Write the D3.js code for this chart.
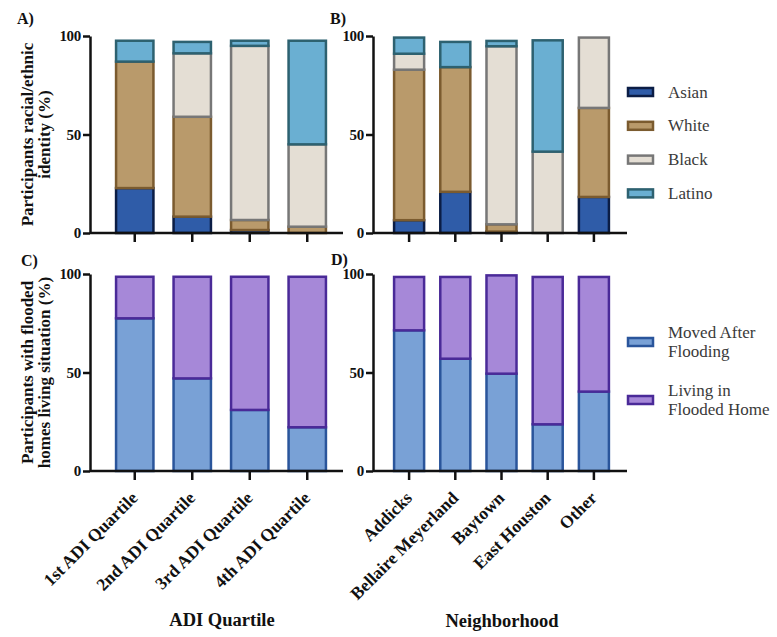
<!DOCTYPE html>
<html>
<head>
<meta charset="utf-8">
<script src="https://cdn.jsdelivr.net/npm/d3@7"></script>
<style>
  body { margin: 0; background: #fff; }
  svg { display: block; }
</style>
</head>
<body>
<svg id="chart" width="777" height="637"></svg>
<script>
// categories
var adiCats = ["1st ADI Quartile", "2nd ADI Quartile", "3rd ADI Quartile", "4th ADI Quartile"];
var hoodCats = ["Addicks", "Bellaire Meyerland", "Baytown", "East Houston", "Other"];
var raceKeys = ["Asian", "White", "Black", "Latino"];
var floodKeys = ["Moved After Flooding", "Living in Flooded Home"];
var yTicks = [0, 50, 100];

// A) race by ADI quartile (%)
var adiAsian  = [22.8, 8.3, 1.5, 0];
var adiWhite  = [64.2, 50.7, 5.1, 3.2];
var adiBlack  = [0, 32.2, 88.4, 41.8];
var adiLatino = [10.6, 5.8, 2.6, 52.6];
// B) race by neighborhood (%)
var hoodAsian  = [6.5, 20.9, 0.7, 0, 18.3];
var hoodWhite  = [76.4, 63.3, 3.7, 0, 45.2];
var hoodBlack  = [8.1, 0, 90.4, 41.3, 35.7];
var hoodLatino = [8.2, 12.8, 2.7, 56.5, 0];
// C) flooded homes by ADI quartile (%)
var adiMoved  = [77.5, 47.0, 31.0, 22.2];
var adiLiving = [21.1, 51.6, 67.6, 76.4];
// D) flooded homes by neighborhood (%)
var hoodMoved  = [71.4, 57.0, 49.4, 23.7, 40.3];
var hoodLiving = [27.1, 41.5, 49.9, 74.8, 58.2];

var raceFill   = ["#2f5ca8", "#b99a6b", "#e4ded4", "#6aafd2"];
var raceStroke = ["#0b1d45", "#7b5b2f", "#777777", "#2d6170"];
var floodFill   = ["#79a1d6", "#a688d8"];
var floodStroke = ["#2a559b", "#4a2a98"];

var SERIF = "'Liberation Serif', 'Times New Roman', Times, serif";

var svg = d3.select("#chart");
svg.append("rect").attr("width", 777).attr("height", 637).attr("fill", "#fff");

function rows(cats, keys, series) {
	return cats.map(function(c, i) {
		var o = { cat: c };
		keys.forEach(function(k, j) { o[k] = series[j][i]; });
		return o;
	});
}

function label(sel, size, bold) {
	return sel.attr("font-family", SERIF).attr("font-size", size)
		.attr("font-weight", bold ? "bold" : "normal");
}

// one stacked-bar panel
function panel(cfg) {
	var g = svg.append("g");
	var x = d3.scaleBand().domain(cfg.cats).range(cfg.band).paddingInner(0.35).paddingOuter(0.175);
	var y = d3.scaleLinear().domain([0, 100]).range(cfg.yr);

	var stack = d3.stack().keys(cfg.keys)(rows(cfg.cats, cfg.keys, cfg.series));
	var layers = g.selectAll("g.layer").data(stack).enter().append("g")
		.attr("class", "layer")
		.attr("fill", function(d, i) { return cfg.fill[i]; })
		.attr("stroke", function(d, i) { return cfg.stroke[i]; })
		.attr("stroke-width", 2.5);
	layers.selectAll("rect")
		.data(function(d) { return d.filter(function(s) { return s[1] - s[0] > 0; }); })
		.enter().append("rect")
		.attr("x", function(d) { return x(d.data.cat); })
		.attr("width", x.bandwidth())
		.attr("y", function(d) { return y(d[1]); })
		.attr("height", function(d) { return y(d[0]) - y(d[1]); });

	// y axis
	var ya = g.append("g")
		.attr("transform", "translate(" + cfg.ax[0] + ",0)")
		.call(d3.axisLeft(y).tickValues(yTicks).tickSize(7).tickSizeOuter(0).tickPadding(2));
	ya.selectAll("path, line").attr("stroke", "#111").attr("stroke-width", 2.5);
	label(ya.selectAll("text"), 15, true).attr("fill", "#111").attr("letter-spacing", "-0.3px");

	// x axis
	var xa = g.append("g")
		.attr("transform", "translate(0," + y(0) + ")")
		.call(d3.axisBottom(x).tickSize(9).tickSizeOuter(0));
	xa.select(".domain").remove();
	xa.append("line").attr("x1", cfg.ax[0]).attr("x2", cfg.ax[1]).attr("y1", 0).attr("y2", 0);
	xa.selectAll("line").attr("stroke", "#111").attr("stroke-width", 2.5);
	if (cfg.labels) {
		label(xa.selectAll(".tick text"), 17.5, true)
			.attr("fill", "#111")
			.attr("text-anchor", "end")
			.attr("transform", "translate(4,28) rotate(-45)")
			.attr("x", 0).attr("y", 0).attr("dy", 0);
	} else {
		xa.selectAll(".tick text").remove();
	}

	label(g.append("text"), 16, true).attr("fill", "#111")
		.attr("x", cfg.tag[0]).attr("y", cfg.tag[1]).text(cfg.tagText);
	return y;
}

var yA = panel({ cats: adiCats, keys: raceKeys, series: [adiAsian, adiWhite, adiBlack, adiLatino],
	fill: raceFill, stroke: raceStroke, band: [106, 336], yr: [233, 36], ax: [90, 343],
	tag: [17, 24], tagText: "A)" });
panel({ cats: hoodCats, keys: raceKeys, series: [hoodAsian, hoodWhite, hoodBlack, hoodLatino],
	fill: raceFill, stroke: raceStroke, band: [386, 617], yr: [233, 36], ax: [373, 627],
	tag: [330, 24], tagText: "B)" });
var yC = panel({ cats: adiCats, keys: floodKeys, series: [adiMoved, adiLiving],
	fill: floodFill, stroke: floodStroke, band: [106, 336], yr: [471, 274], ax: [90, 343],
	tag: [21, 266], tagText: "C)", labels: true });
panel({ cats: hoodCats, keys: floodKeys, series: [hoodMoved, hoodLiving],
	fill: floodFill, stroke: floodStroke, band: [386, 617], yr: [471, 274], ax: [373, 627],
	tag: [331, 265], tagText: "D)", labels: true });

// y-axis titles
function yTitle(lines, cy) {
	var t = label(svg.append("text"), 17, true).attr("fill", "#111")
		.attr("text-anchor", "middle")
		.attr("transform", "translate(33," + cy + ") rotate(-90)");
	lines.forEach(function(l, i) {
		t.append("tspan").attr("x", 0).attr("dy", i ? 17 : 0).text(l);
	});
}
yTitle(["Participants racial/ethnic", "identity (%)"], (yA(0) + yA(100)) / 2);
yTitle(["Participants with flooded", "homes living situation (%)"], (yC(0) + yC(100)) / 2);

// x-axis titles
label(svg.append("text"), 18.5, true).attr("fill", "#111").attr("text-anchor", "middle")
	.attr("x", 222).attr("y", 626).text("ADI Quartile");
label(svg.append("text"), 18.5, true).attr("fill", "#111").attr("text-anchor", "middle")
	.attr("x", 502).attr("y", 627).text("Neighborhood");

// legends
function legend(items, fill, stroke, y0, step) {
	items.forEach(function(lines, i) {
		var cy = y0 + i * step;
		svg.append("rect").attr("x", 628).attr("y", cy - 4).attr("width", 25).attr("height", 8)
			.attr("fill", fill[i]).attr("stroke", stroke[i]).attr("stroke-width", 2.5);
		var t = label(svg.append("text"), 17, false).attr("fill", "#3a3a3a");
		var off = (lines.length - 1) * 9.5;
		lines.forEach(function(l, j) {
			t.append("tspan").attr("x", 668).attr("y", cy - off + j * 19 + 5.5).text(l);
		});
	});
}
legend(raceKeys.map(function(k) { return [k]; }), raceFill, raceStroke, 92, 33.8);
legend([["Moved After", "Flooding"], ["Living in", "Flooded Home"]], floodFill, floodStroke, 342, 58);
</script>
</body>
</html>
